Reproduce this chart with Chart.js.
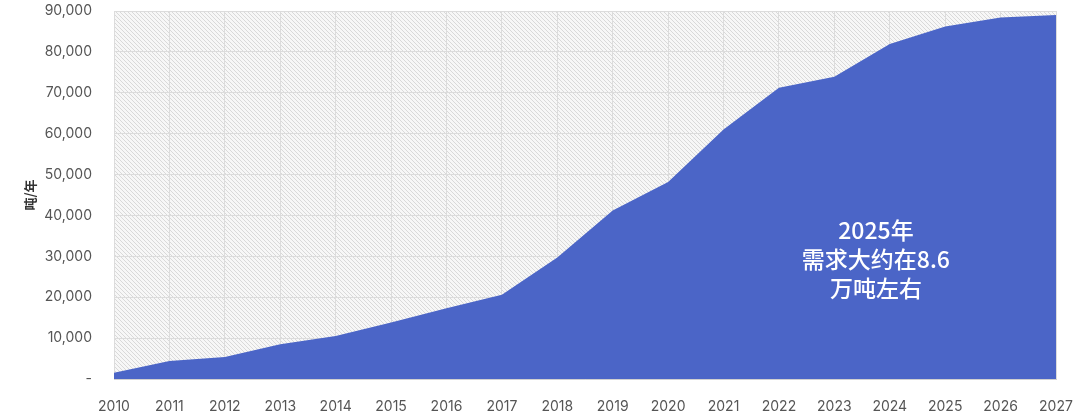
<!DOCTYPE html>
<html>
<head>
<meta charset="utf-8">
<script src="https://cdn.jsdelivr.net/npm/chart.js@4"></script>
<style>
  html, body { margin: 0; padding: 0; background: #fff; }
  #wrap { width: 1080px; height: 419px; }
</style>
</head>
<body>
<div id="wrap"><canvas id="myChart"></canvas></div>
<script>
// data
const years = ['2010', '2011', '2012', '2013', '2014', '2015', '2016', '2017', '2018',
    '2019', '2020', '2021', '2022', '2023', '2024', '2025', '2026', '2027'];
const demand = [1500, 4400, 5400, 8500, 10500, 13800, 17300, 20600, 29700,
    41200, 48200, 61000, 71200, 73900, 81900, 86200, 88400, 89000];
const yTicks = [0, 10000, 20000, 30000, 40000, 50000, 60000, 70000, 80000, 90000];
const noteLines = ['2025年', '需求大约在8.6', '万吨左右'];

const tickFont = { family: 'Inter, "Noto Sans", sans-serif', size: 14 };
const tickColor = '#555555';

// hatched background of the plot area
function makeHatch() {
    let c = document.createElement('canvas');
    c.width = 4; c.height = 4;
    let g = c.getContext('2d');
    g.fillStyle = '#f7f7f7';
    g.fillRect(0, 0, 4, 4);
    g.strokeStyle = '#d9d9d9';
    g.lineWidth = 1;
    g.beginPath();
    g.moveTo(-1, -1); g.lineTo(5, 5);
    g.moveTo(-1, 3); g.lineTo(1, 5);
    g.moveTo(3, -1); g.lineTo(5, 1);
    g.stroke();
    return g.createPattern(c, 'repeat');
}

const hatchBg = {
    id: 'hatchBg',
    beforeDraw(chart) {
        let a = chart.chartArea;
        let ctx = chart.ctx;
        ctx.save();
        ctx.fillStyle = makeHatch();
        ctx.fillRect(a.left, a.top, a.right - a.left, a.bottom - a.top);
        ctx.restore();
    }
};

const note = {
    id: 'note',
    afterDatasetsDraw(chart) {
        let ctx = chart.ctx;
        let x = chart.scales.x.getPixelForValue(13.75);
        let y = chart.scales.y.getPixelForValue(36400);
        ctx.save();
        ctx.fillStyle = '#ffffff';
        ctx.font = '500 23px "Noto Sans CJK SC", "Noto Sans", sans-serif';
        ctx.textAlign = 'center';
        ctx.textBaseline = 'middle';
        noteLines.forEach((t, i) => ctx.fillText(t, x, y + i * 29));
        ctx.restore();
    }
};

let ctx = document.getElementById('myChart');

let myChart = new Chart(ctx, {
    type: 'line',
    data: {
        labels: years,
        datasets: [{
            label: '需求',
            data: demand,
            backgroundColor: '#4b65c7',
            borderColor: '#4b65c7',
            borderWidth: 0,
            pointRadius: 0,
            tension: 0,
            fill: 'origin'
        }]
    },
    options: {
        responsive: true,
        maintainAspectRatio: false,
        animation: false,
        layout: { padding: { top: 11, right: 24, left: 22, bottom: 0 } },
        plugins: {
            legend: { display: false },
            tooltip: { enabled: false }
        },
        scales: {
            x: {
                offset: false,
                grid: { color: '#dcdcdc', drawTicks: false },
                border: { color: '#d0d0d0' },
                ticks: { font: tickFont, color: tickColor, padding: 19, maxRotation: 0, autoSkip: false },
                afterFit(scale) {
                    scale.height = 40;
                    scale.paddingLeft = 0;
                    scale.paddingRight = 0;
                }
            },
            y: {
                min: 0,
                max: 90000,
                afterBuildTicks(scale) { scale.ticks = yTicks.map(v => ({ value: v })); },
                grid: { color: '#dcdcdc', drawTicks: false },
                border: { display: false },
                ticks: {
                    font: tickFont,
                    color: tickColor,
                    padding: 22,
                    callback: v => v === 0 ? '-' : v.toLocaleString('en-US')
                },
                title: {
                    display: true,
                    text: '吨/年',
                    color: '#333',
                    font: { family: '"Noto Sans CJK SC", sans-serif', size: 13, weight: 'bold' },
                    padding: { top: 0, bottom: 0 }
                },
                afterFit(scale) {
                    scale.width = 92;
                    scale.paddingTop = 0;
                    scale.paddingBottom = 0;
                }
            }
        }
    },
    plugins: [hatchBg, note]
});
</script>
</body>
</html>
